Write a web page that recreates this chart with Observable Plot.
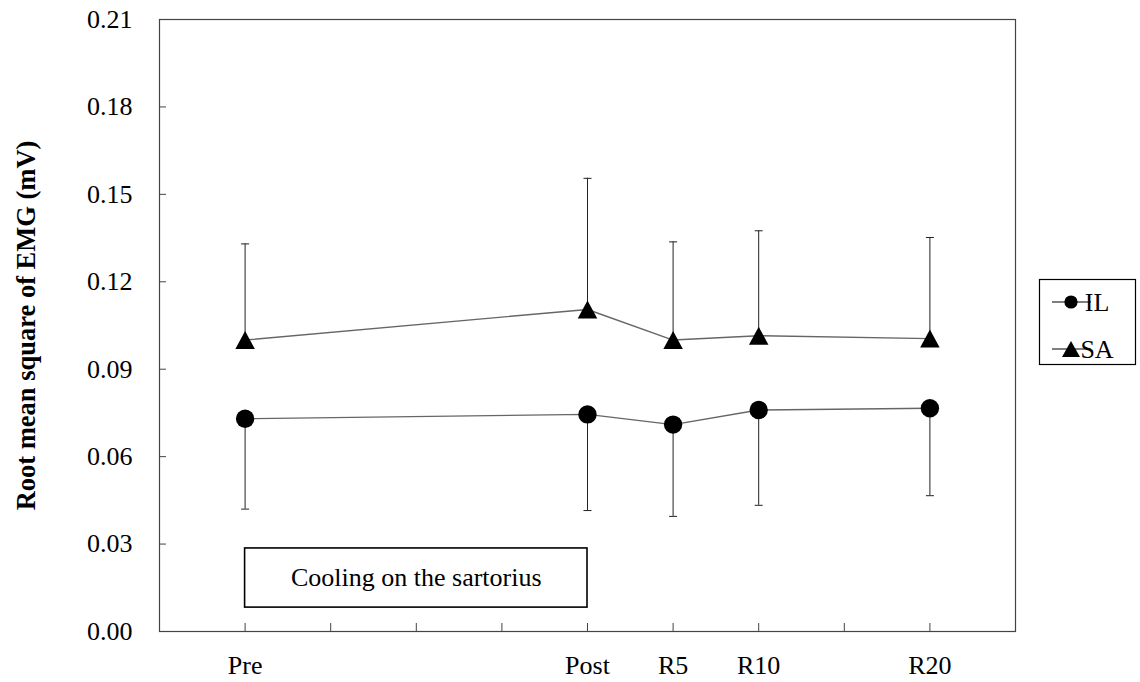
<!DOCTYPE html>
<html>
<head>
<meta charset="utf-8">
<script src="https://cdn.jsdelivr.net/npm/d3@7"></script>
<script src="https://cdn.jsdelivr.net/npm/@observablehq/plot@0.6"></script>
<style>
  body { margin: 0; background: #fff; }
  #chart { width: 1140px; height: 682px; }
</style>
</head>
<body>
<div id="chart"></div>
<script>
// Measurement phases and their positions on the time axis (one tick per unit)
const phases = ["Pre", "Post", "R5", "R10", "R20"];
const phaseTime = [0, 4, 5, 6, 8];
const timeTicks = [0, 1, 2, 3, 4, 5, 6, 7, 8];

// Iliacus (IL): mean and SD of RMS EMG (mV)
const ilMean = [0.073, 0.0745, 0.071, 0.076, 0.0766];
const ilSD = [0.031, 0.033, 0.0315, 0.0327, 0.030];

// Sartorius (SA): mean and SD of RMS EMG (mV)
const saMean = [0.100, 0.1105, 0.100, 0.1015, 0.1005];
const saSD = [0.033, 0.045, 0.0337, 0.036, 0.0347];

const yTicks = [0, 0.03, 0.06, 0.09, 0.12, 0.15, 0.18, 0.21];

const il = phases.map((p, i) => ({phase: p, t: phaseTime[i], mean: ilMean[i], end: ilMean[i] - ilSD[i]}));
const sa = phases.map((p, i) => ({phase: p, t: phaseTime[i], mean: saMean[i], end: saMean[i] + saSD[i]}));

const serif = "Liberation Serif, Times New Roman, serif";

// Horizontal cap for the error bars
const cap = {draw(ctx) { ctx.moveTo(-4, 0); ctx.lineTo(4, 0); }};
// Triangle centred on its bounding box
const tri = (w, h) => ({draw(ctx) {
  ctx.moveTo(0, -h / 2); ctx.lineTo(w / 2, h / 2); ctx.lineTo(-w / 2, h / 2); ctx.closePath();
}});

const chart = Plot.plot({
  width: 1140,
  height: 682,
  marginLeft: 159,
  marginRight: 125,
  marginTop: 19,
  marginBottom: 51,
  style: {fontFamily: serif, fontSize: "26px", color: "#000", background: "#fff"},
  x: {domain: [-1, 9]},
  y: {domain: [0, 0.21]},
  marks: [
    Plot.frame({stroke: "#444", strokeWidth: 1.2}),
    // y axis: ticks inside the frame, labels outside
    Plot.axisY(yTicks, {tickSize: -7, tickFormat: () => "", stroke: "#444", label: null}),
    Plot.axisY(yTicks, {tickSize: 0, tickPadding: 27, tickFormat: d => d.toFixed(2), fontSize: 26, fontFamily: serif, label: null}),
    // x axis: ticks inside, phase names below
    Plot.axisX(timeTicks, {tickSize: -8, tickFormat: () => "", stroke: "#444", label: null}),
    Plot.axisX(phaseTime, {tickSize: 0, tickPadding: 24, tickFormat: d => phases[phaseTime.indexOf(d)], fontSize: 26, fontFamily: serif, label: null}),
    // y axis title
    Plot.text(["Root mean square of EMG (mV)"], {frameAnchor: "left", textAnchor: "middle", dx: -133, rotate: -90, fontWeight: "bold", fontSize: 26.5, fontFamily: serif}),
    // condition box
    Plot.rect([0], {x1: 0, x2: 4, y1: 0.0082, y2: 0.0285, fill: "#fff", stroke: "#000", strokeWidth: 1.6}),
    Plot.text(["Cooling on the sartorius"], {x: 2, y: 0.0183, fontSize: 26, fontFamily: serif}),
    // error bars
    Plot.ruleX(il, {x: "t", y1: "mean", y2: "end", stroke: "#222", strokeWidth: 1}),
    Plot.ruleX(sa, {x: "t", y1: "mean", y2: "end", stroke: "#222", strokeWidth: 1}),
    Plot.dot(il, {x: "t", y: "end", symbol: cap, stroke: "#222", strokeWidth: 1}),
    Plot.dot(sa, {x: "t", y: "end", symbol: cap, stroke: "#222", strokeWidth: 1}),
    // series lines and markers
    Plot.line(il, {x: "t", y: "mean", stroke: "#666", strokeWidth: 1.4}),
    Plot.line(sa, {x: "t", y: "mean", stroke: "#666", strokeWidth: 1.4}),
    Plot.dot(il, {x: "t", y: "mean", r: 9.2, fill: "#000", stroke: "none"}),
    Plot.dot(sa, {x: "t", y: "mean", symbol: tri(19.5, 18), fill: "#000", stroke: "none"})
  ]
});

document.getElementById("chart").appendChild(chart);

// Legend to the right of the plot frame
const svg = d3.select(chart);
const lg = svg.append("g").attr("font-family", serif).attr("font-size", 26);
lg.append("rect").attr("x", 1039.5).attr("y", 279.5).attr("width", 96).attr("height", 85)
  .attr("fill", "#fff").attr("stroke", "#000").attr("stroke-width", 1.2);
const entries = [
  {name: "IL", y: 302, sym: d3.symbol(d3.symbolCircle, Math.PI * 6.6 * 6.6)},
  {name: "SA", y: 349, sym: d3.symbol(tri(18, 16))}
];
for (const e of entries) {
  lg.append("line").attr("x1", 1052).attr("x2", 1091).attr("y1", e.y).attr("y2", e.y)
    .attr("stroke", "#000").attr("stroke-width", 1.2);
  lg.append("path").attr("d", e.sym()).attr("transform", `translate(1071,${e.y})`).attr("fill", "#000");
  lg.append("text").attr("x", 1097).attr("y", e.y).attr("dy", "0.35em").text(e.name);
}
</script>
</body>
</html>
